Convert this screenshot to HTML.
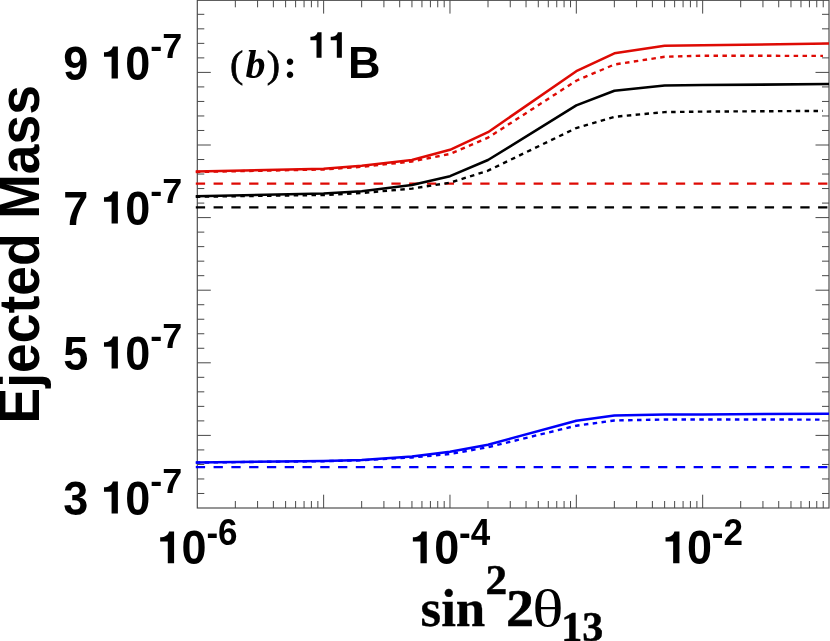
<!DOCTYPE html>
<html><head><meta charset="utf-8"><title>chart</title>
<style>html,body{margin:0;padding:0;background:#fff;}svg{display:block;position:absolute;left:0;top:0;will-change:transform;}</style></head>
<body><svg width="830" height="641" viewBox="0 0 830 641">
<rect width="830" height="641" fill="#fff"/>
<rect x="197.3" y="0.3" width="631.7" height="507.7" fill="none" stroke="#484848" stroke-width="1.15"/>
<path d="M235.33 508.0v-7M235.33 0.3v7M257.58 508.0v-7M257.58 0.3v7M273.36 508.0v-7M273.36 0.3v7M285.61 508.0v-7M285.61 0.3v7M295.61 508.0v-7M295.61 0.3v7M304.07 508.0v-7M304.07 0.3v7M311.40 508.0v-7M311.40 0.3v7M317.86 508.0v-7M317.86 0.3v7M323.64 508.0v-13.3M323.64 0.3v13.3M361.67 508.0v-7M361.67 0.3v7M383.92 508.0v-7M383.92 0.3v7M399.70 508.0v-7M399.70 0.3v7M411.95 508.0v-7M411.95 0.3v7M421.95 508.0v-7M421.95 0.3v7M430.41 508.0v-7M430.41 0.3v7M437.74 508.0v-7M437.74 0.3v7M444.20 508.0v-7M444.20 0.3v7M449.98 508.0v-13.3M449.98 0.3v13.3M488.01 508.0v-7M488.01 0.3v7M510.26 508.0v-7M510.26 0.3v7M526.04 508.0v-7M526.04 0.3v7M538.29 508.0v-7M538.29 0.3v7M548.29 508.0v-7M548.29 0.3v7M556.75 508.0v-7M556.75 0.3v7M564.08 508.0v-7M564.08 0.3v7M570.54 508.0v-7M570.54 0.3v7M576.32 508.0v-13.3M576.32 0.3v13.3M614.35 508.0v-7M614.35 0.3v7M636.60 508.0v-7M636.60 0.3v7M652.38 508.0v-7M652.38 0.3v7M664.63 508.0v-7M664.63 0.3v7M674.63 508.0v-7M674.63 0.3v7M683.09 508.0v-7M683.09 0.3v7M690.42 508.0v-7M690.42 0.3v7M696.88 508.0v-7M696.88 0.3v7M702.66 508.0v-13.3M702.66 0.3v13.3M740.69 508.0v-7M740.69 0.3v7M762.94 508.0v-7M762.94 0.3v7M778.72 508.0v-7M778.72 0.3v7M790.97 508.0v-7M790.97 0.3v7M800.97 508.0v-7M800.97 0.3v7M809.43 508.0v-7M809.43 0.3v7M816.76 508.0v-7M816.76 0.3v7M823.22 508.0v-7M823.22 0.3v7M197.3 493.48h7M829.0 493.48h-7M197.3 478.96h7M829.0 478.96h-7M197.3 464.44h7M829.0 464.44h-7M197.3 449.92h7M829.0 449.92h-7M197.3 435.40h13.5M829.0 435.40h-13.5M197.3 420.88h7M829.0 420.88h-7M197.3 406.36h7M829.0 406.36h-7M197.3 391.84h7M829.0 391.84h-7M197.3 377.32h7M829.0 377.32h-7M197.3 362.80h13.5M829.0 362.80h-13.5M197.3 348.28h7M829.0 348.28h-7M197.3 333.76h7M829.0 333.76h-7M197.3 319.24h7M829.0 319.24h-7M197.3 304.72h7M829.0 304.72h-7M197.3 290.20h13.5M829.0 290.20h-13.5M197.3 275.68h7M829.0 275.68h-7M197.3 261.16h7M829.0 261.16h-7M197.3 246.64h7M829.0 246.64h-7M197.3 232.12h7M829.0 232.12h-7M197.3 217.60h13.5M829.0 217.60h-13.5M197.3 203.08h7M829.0 203.08h-7M197.3 188.56h7M829.0 188.56h-7M197.3 174.04h7M829.0 174.04h-7M197.3 159.52h7M829.0 159.52h-7M197.3 145.00h13.5M829.0 145.00h-13.5M197.3 130.48h7M829.0 130.48h-7M197.3 115.96h7M829.0 115.96h-7M197.3 101.44h7M829.0 101.44h-7M197.3 86.92h7M829.0 86.92h-7M197.3 72.40h13.5M829.0 72.40h-13.5M197.3 57.88h7M829.0 57.88h-7M197.3 43.36h7M829.0 43.36h-7M197.3 28.84h7M829.0 28.84h-7M197.3 14.32h7M829.0 14.32h-7" stroke="#484848" stroke-width="1" fill="none"/>
<path d="M195.8 183.7H829.0" stroke="#de0a04" stroke-width="2.3" stroke-dasharray="9.3 8.48" fill="none"/>
<path d="M195.8 207.3H829.0" stroke="#000000" stroke-width="2.3" stroke-dasharray="9.3 8.48" fill="none"/>
<path d="M195.8 467.1H829.0" stroke="#0000fa" stroke-width="2.3" stroke-dasharray="9.3 8.48" fill="none"/>
<polyline points="195.8,196.8 323.6,195.0 361.7,193.0 411.9,188.6 450.0,182.7 488.0,170.7 576.3,128.0 614.4,116.8 664.6,112.1 702.7,111.6 823.0,110.9" stroke="#000000" stroke-width="2.4" stroke-dasharray="4.5 4.4" fill="none"/>
<polyline points="195.8,172.0 323.6,169.5 361.7,166.8 411.9,161.5 450.0,153.9 488.0,137.7 576.3,80.7 614.4,64.5 664.6,56.8 702.7,55.7 823.0,55.9" stroke="#de0a04" stroke-width="2.4" stroke-dasharray="4.5 4.4" fill="none"/>
<polyline points="195.8,462.6 323.6,461.2 361.7,460.3 411.9,457.5 450.0,454.0 488.0,447.2 576.3,425.7 614.4,420.5 664.6,419.5 702.7,419.5 823.0,419.6" stroke="#0000fa" stroke-width="2.4" stroke-dasharray="4.5 4.4" fill="none"/>
<polyline points="195.8,196.2 323.6,193.5 361.7,191.2 411.9,184.9 450.0,176.2 488.0,160.0 576.3,105.4 614.4,90.8 664.6,85.4 702.7,85.1 829.0,84.1" stroke="#000000" stroke-width="2.55" stroke-linejoin="round" fill="none"/>
<polyline points="195.8,171.6 323.6,168.8 361.7,165.7 411.9,159.9 450.0,149.8 488.0,132.2 576.3,71.2 614.4,53.3 664.6,45.8 702.7,45.2 829.0,43.6" stroke="#de0a04" stroke-width="2.55" stroke-linejoin="round" fill="none"/>
<polyline points="195.8,462.4 323.6,461.0 361.7,460.0 411.9,456.5 450.0,451.7 488.0,444.7 576.3,420.8 614.4,415.6 664.6,414.4 702.7,414.4 829.0,413.7" stroke="#0000fa" stroke-width="2.55" stroke-linejoin="round" fill="none"/>
<text transform="translate(63.30 79.50) scale(1 1.07)" font-family="Liberation Sans, sans-serif" font-weight="bold" font-size="45" >9</text>
<path transform="translate(100.20 78.50) scale(0.04500 -0.04500)" d="M393 0H253V486H84V581C186 581 263 622 281 709H393Z" fill="#000"/>
<text transform="translate(125.22 79.50) scale(1 1.07)" font-family="Liberation Sans, sans-serif" font-weight="bold" font-size="45" >0</text>
<text transform="translate(150.20 58.10) scale(1 0.97)" font-family="Liberation Sans, sans-serif" font-weight="bold" font-size="36" >-7</text>
<text transform="translate(63.30 224.50) scale(1 1.07)" font-family="Liberation Sans, sans-serif" font-weight="bold" font-size="45" >7</text>
<path transform="translate(100.20 223.50) scale(0.04500 -0.04500)" d="M393 0H253V486H84V581C186 581 263 622 281 709H393Z" fill="#000"/>
<text transform="translate(125.22 224.50) scale(1 1.07)" font-family="Liberation Sans, sans-serif" font-weight="bold" font-size="45" >0</text>
<text transform="translate(150.20 203.10) scale(1 0.97)" font-family="Liberation Sans, sans-serif" font-weight="bold" font-size="36" >-7</text>
<text transform="translate(63.30 369.50) scale(1 1.07)" font-family="Liberation Sans, sans-serif" font-weight="bold" font-size="45" >5</text>
<path transform="translate(100.20 368.50) scale(0.04500 -0.04500)" d="M393 0H253V486H84V581C186 581 263 622 281 709H393Z" fill="#000"/>
<text transform="translate(125.22 369.50) scale(1 1.07)" font-family="Liberation Sans, sans-serif" font-weight="bold" font-size="45" >0</text>
<text transform="translate(150.20 348.10) scale(1 0.97)" font-family="Liberation Sans, sans-serif" font-weight="bold" font-size="36" >-7</text>
<text transform="translate(63.30 514.50) scale(1 1.07)" font-family="Liberation Sans, sans-serif" font-weight="bold" font-size="45" >3</text>
<path transform="translate(100.20 513.50) scale(0.04500 -0.04500)" d="M393 0H253V486H84V581C186 581 263 622 281 709H393Z" fill="#000"/>
<text transform="translate(125.22 514.50) scale(1 1.07)" font-family="Liberation Sans, sans-serif" font-weight="bold" font-size="45" >0</text>
<text transform="translate(150.20 493.10) scale(1 0.97)" font-family="Liberation Sans, sans-serif" font-weight="bold" font-size="36" >-7</text>
<path transform="translate(156.40 563.30) scale(0.04500 -0.04500)" d="M393 0H253V486H84V581C186 581 263 622 281 709H393Z" fill="#000"/>
<text transform="translate(181.62 564.10) scale(1 1.055)" font-family="Liberation Sans, sans-serif" font-weight="bold" font-size="45" >0</text>
<text transform="translate(206.40 544.60) scale(1 1.07)" font-family="Liberation Sans, sans-serif" font-weight="bold" font-size="35" >-6</text>
<path transform="translate(409.08 563.30) scale(0.04500 -0.04500)" d="M393 0H253V486H84V581C186 581 263 622 281 709H393Z" fill="#000"/>
<text transform="translate(434.30 564.10) scale(1 1.055)" font-family="Liberation Sans, sans-serif" font-weight="bold" font-size="45" >0</text>
<text transform="translate(459.08 544.60) scale(1 1.07)" font-family="Liberation Sans, sans-serif" font-weight="bold" font-size="35" >-4</text>
<path transform="translate(661.76 563.30) scale(0.04500 -0.04500)" d="M393 0H253V486H84V581C186 581 263 622 281 709H393Z" fill="#000"/>
<text transform="translate(686.98 564.10) scale(1 1.055)" font-family="Liberation Sans, sans-serif" font-weight="bold" font-size="45" >0</text>
<text transform="translate(711.76 544.60) scale(1 1.07)" font-family="Liberation Sans, sans-serif" font-weight="bold" font-size="35" >-2</text>
<text transform="translate(229.90 76.80) scale(1 0.95)" font-family="Liberation Serif, serif" font-size="40" stroke="#000" stroke-width="0.7">(</text>
<text transform="translate(245.50 77.60) scale(1 1)" font-family="Liberation Serif, serif" font-weight="bold" font-style="italic" font-size="40" >b</text>
<text transform="translate(266.70 76.80) scale(1 0.95)" font-family="Liberation Serif, serif" font-size="40" stroke="#000" stroke-width="0.7">)</text>
<text transform="translate(283.50 78.40) scale(1 1)" font-family="Liberation Serif, serif" font-weight="bold" font-size="40" >:</text>
<path transform="translate(307.40 57.70) scale(0.03600 -0.03600)" d="M393 0H253V486H84V581C186 581 263 622 281 709H393Z" fill="#000"/>
<path transform="translate(327.70 57.70) scale(0.03600 -0.03600)" d="M393 0H253V486H84V581C186 581 263 622 281 709H393Z" fill="#000"/>
<text transform="translate(348.00 77.60) scale(1 0.985)" font-family="Liberation Sans, sans-serif" font-weight="bold" font-size="45" >B</text>
<text transform="translate(420.50 625.50) scale(1 1)" font-family="Liberation Serif, serif" font-weight="bold" font-size="53" stroke="#000" stroke-width="0.3">sin</text>
<text transform="translate(485.60 593.80) scale(1.03 1)" font-family="Liberation Serif, serif" font-weight="bold" font-size="42" stroke="#000" stroke-width="0.5">2</text>
<text transform="translate(506.30 625.50) scale(1.04 1)" font-family="Liberation Serif, serif" font-weight="bold" font-size="53" stroke="#000" stroke-width="0.7">2</text>
<text transform="translate(532.30 625.50) scale(1.23 1)" font-family="Liberation Serif, serif" font-size="53" >θ</text>
<text transform="translate(561.30 640.80) scale(1 1)" font-family="Liberation Serif, serif" font-weight="bold" font-size="42" stroke="#000" stroke-width="0.5">13</text>
<text transform="translate(38.8 423.4) rotate(-90) scale(1 1.08)" font-family="Liberation Sans, sans-serif" font-weight="bold" font-size="53.4">Ejected Mass</text>
</svg></body></html>
